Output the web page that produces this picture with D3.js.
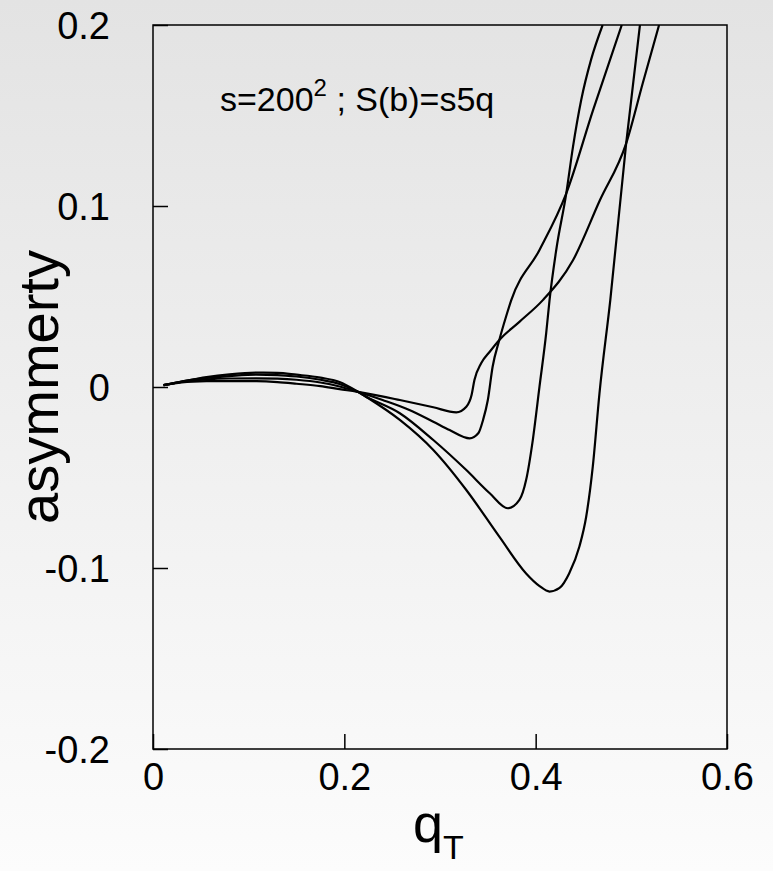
<!DOCTYPE html>
<html>
<head>
<meta charset="utf-8">
<script src="https://cdn.jsdelivr.net/npm/d3@7"></script>
<style>
  html, body { margin: 0; padding: 0; }
  body { width: 773px; height: 871px; overflow: hidden; }
  text { font-family: "Liberation Sans", Arial, Helvetica, sans-serif; fill: #000; }
</style>
</head>
<body>
<div id="chart"></div>
<script>
// four asymmetry curves, [qT, asymmetry]
const curveA = [[0.011,0.001],[0.03,0.0025],[0.056,0.0032],[0.08,0.0033],[0.108,0.0032],[0.13,0.0027],[0.15,0.0018],[0.175,0.0005],[0.195,-0.0012],[0.213,-0.0026],[0.223,-0.0035],[0.258,-0.0072],[0.293,-0.0112],[0.317,-0.014],[0.3275,-0.0109],[0.333,-0.0044],[0.336,0.0039],[0.343,0.0131],[0.352,0.0195],[0.362,0.026],[0.383,0.036],[0.4075,0.048],[0.439,0.070],[0.467,0.103],[0.4946,0.1346],[0.512,0.168],[0.529,0.2]];
const curveB = [[0.011,0.001],[0.03,0.0028],[0.056,0.0042],[0.08,0.0047],[0.108,0.0048],[0.13,0.0046],[0.15,0.004],[0.175,0.0025],[0.195,0.0003],[0.213,-0.0025],[0.24,-0.0072],[0.268,-0.0127],[0.293,-0.0192],[0.31,-0.0238],[0.331,-0.0284],[0.34,-0.0256],[0.345,-0.0182],[0.35,-0.0072],[0.355,0.0112],[0.362,0.026],[0.369,0.0388],[0.3745,0.048],[0.404,0.0757],[0.432,0.107],[0.46,0.153],[0.49,0.2]];
const curveC = [[0.011,0.001],[0.03,0.003],[0.056,0.005],[0.08,0.006],[0.108,0.0068],[0.13,0.0066],[0.15,0.0058],[0.175,0.004],[0.195,0.0017],[0.213,-0.0024],[0.223,-0.0054],[0.258,-0.0145],[0.293,-0.0293],[0.3275,-0.0459],[0.352,-0.0587],[0.371,-0.067],[0.383,-0.0624],[0.39,-0.0514],[0.397,-0.0293],[0.404,0.0002],[0.411,0.0297],[0.4145,0.048],[0.4215,0.0757],[0.432,0.107],[0.439,0.1327],[0.4476,0.1586],[0.458,0.181],[0.47,0.2]];
const curveD = [[0.011,0.001],[0.03,0.003],[0.056,0.0055],[0.08,0.007],[0.108,0.0079],[0.13,0.0078],[0.15,0.0068],[0.175,0.0052],[0.195,0.0028],[0.213,-0.0022],[0.223,-0.0055],[0.258,-0.0182],[0.293,-0.0348],[0.3275,-0.0569],[0.362,-0.0827],[0.39,-0.103],[0.4041,-0.110],[0.4145,-0.113],[0.425,-0.111],[0.435,-0.103],[0.4458,-0.088],[0.4528,-0.0717],[0.4597,-0.044],[0.4667,-0.0035],[0.478,0.048],[0.4946,0.1346],[0.509,0.2]];
const curves = [curveA, curveB, curveC, curveD];

const xTicks = [0, 0.2, 0.4, 0.6];
const yTicks = [-0.2, -0.1, 0, 0.1, 0.2];

const width = 773, height = 871;
const margin = {top: 25, right: 46, bottom: 122, left: 153};

const svg = d3.select("#chart").append("svg")
    .attr("width", width)
    .attr("height", height);

const defs = svg.append("defs");
const grad = defs.append("linearGradient")
    .attr("id", "bg").attr("x1", 0).attr("y1", 0).attr("x2", 0).attr("y2", 1);
grad.append("stop").attr("offset", "0%").attr("stop-color", "#e3e3e3");
grad.append("stop").attr("offset", "100%").attr("stop-color", "#fcfcfc");

svg.append("rect").attr("width", width).attr("height", height).attr("fill", "url(#bg)");

const x = d3.scaleLinear().domain([0, 0.6]).range([margin.left, width - margin.right]);
const y = d3.scaleLinear().domain([-0.2, 0.2]).range([height - margin.bottom, margin.top]);

defs.append("clipPath").attr("id", "plot")
  .append("rect")
    .attr("x", x(0)).attr("y", y(0.2))
    .attr("width", x(0.6) - x(0)).attr("height", y(-0.2) - y(0.2));

// curves
const line = d3.line()
    .x(d => x(d[0]))
    .y(d => y(d[1]))
    .curve(d3.curveMonotoneX);

svg.append("g").attr("clip-path", "url(#plot)")
  .selectAll("path")
  .data(curves)
  .join("path")
    .attr("d", line)
    .attr("fill", "none")
    .attr("stroke", "#000")
    .attr("stroke-width", 2.2);

// frame
svg.append("rect")
    .attr("x", x(0)).attr("y", y(0.2))
    .attr("width", x(0.6) - x(0)).attr("height", y(-0.2) - y(0.2))
    .attr("fill", "none").attr("stroke", "#000").attr("stroke-width", 1.5);

const fmt = d => d === 0 ? "0" : d.toFixed(1);

// axes, ticks pointing inward
const xAxis = svg.append("g")
    .attr("transform", `translate(0,${y(-0.2)})`)
    .call(d3.axisBottom(x).tickValues(xTicks).tickSize(-15).tickPadding(0).tickFormat(fmt));
xAxis.select(".domain").remove();
xAxis.selectAll(".tick line").attr("stroke", "#000").attr("stroke-width", 1.5);
xAxis.selectAll(".tick text")
    .attr("y", 41).attr("dy", null)
    .attr("font-size", 38);

const yAxis = svg.append("g")
    .attr("transform", `translate(${x(0)},0)`)
    .call(d3.axisLeft(y).tickValues(yTicks).tickSize(-15).tickPadding(0).tickFormat(fmt));
yAxis.select(".domain").remove();
yAxis.selectAll(".tick line").attr("stroke", "#000").attr("stroke-width", 1.5);
yAxis.selectAll(".tick text")
    .attr("x", -43).attr("dy", "0.36em")
    .attr("text-anchor", "end")
    .attr("font-size", 38);

// axis titles
const xt = svg.append("text")
    .attr("x", 413).attr("y", 842)
    .attr("font-size", 54);
xt.append("tspan").text("q");
xt.append("tspan").attr("font-size", 34).attr("dy", 17).text("T");

svg.append("text")
    .attr("transform", `translate(58,${y(0)}) rotate(-90)`)
    .attr("text-anchor", "middle")
    .attr("font-size", 56)
    .text("asymmerty");

// annotation
const note = svg.append("text")
    .attr("x", 220).attr("y", 111)
    .attr("font-size", 34);
note.append("tspan").text("s=200");
note.append("tspan").attr("font-size", 24).attr("dy", -15).text("2");
note.append("tspan").attr("dy", 15).text(" ; S(b)=s5q");
</script>
</body>
</html>
